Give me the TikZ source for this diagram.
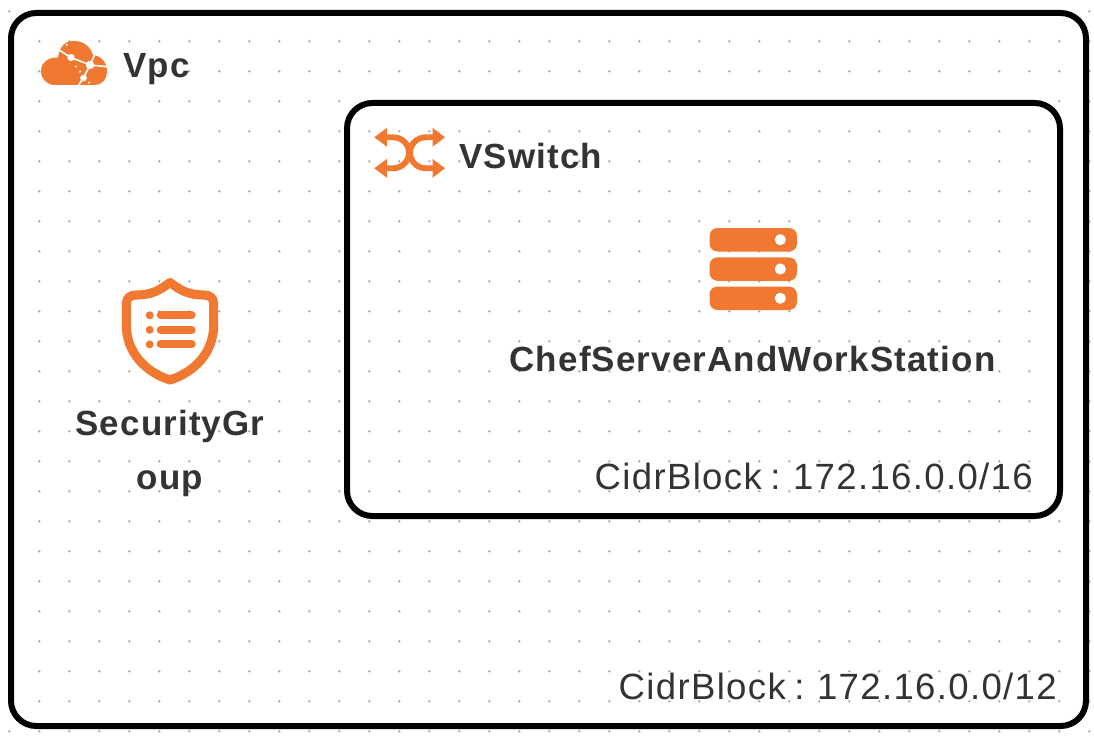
\documentclass[tikz,border=0pt]{standalone}
\usepackage{fontspec}
\setmainfont{Liberation Sans}
\newfontfamily\cidrfont[LetterSpace=3.7,WordSpace=0.75]{Liberation Sans}
\definecolor{iconorange}{HTML}{F07830}
\definecolor{labelgrey}{HTML}{333333}
\definecolor{griddot}{HTML}{ABABAB}
\tikzset{
  font={\fontsize{25.5pt}{40.5pt}\selectfont},
  boxline/.style={draw=black,line width=4.5pt,rounded corners=19pt},
  namelabel/.style={inner sep=0pt,text=labelgrey,font={\fontsize{26.2pt}{40.5pt}\selectfont\bfseries\addfontfeatures{LetterSpace=3.3}}},
  cidrlabel/.style={inner sep=0pt,text=labelgrey,font={\cidrfont\fontsize{27.4pt}{40.5pt}\selectfont},anchor=base east},
  crack/.style={white,line width=1.2pt}}

\begin{document}
\begin{tikzpicture}[x=0.75pt,y=-0.75pt]
\useasboundingbox (0,0) rectangle (1094,738);
\fill [white] (0,0) rectangle (1094,738);
% grid
\foreach \gx in {0,...,36}
  \foreach \gy in {0,...,24}
    \fill [griddot] (9.3+30*\gx,11.3+30*\gy) circle (1.3);
% boxes
\draw [boxline] (11,13) rectangle (1086,726);
\draw [boxline] (347,103) rectangle (1060,516);
% vpc icon
\fill [iconorange] (55,85) -- (95,85) .. controls (102,85) and (107,79) .. (107,72)
  .. controls (107,63) and (102,56) .. (93,55) .. controls (90,46) and (83,41) .. (74,41)
  .. controls (66,41) and (60,45) .. (58,57.5) .. controls (48,57) and (41,63) .. (41,71)
  .. controls (41,79) and (47,85) .. (55,85) -- cycle;
\draw [crack] (59,50) -- (71,57.5) -- (90,65) -- (107,66.7);
\draw [crack] (90,65) -- (95,54);
\draw [crack] (90,65) -- (83.5,78) -- (78,86);
\fill [white] (71,57.5) circle (3.6);
\fill [white] (90,65) circle (4.2);
\fill [white] (83.5,78) circle (3.4);
\foreach \cx/\cy in {66.7/45,76/66.5,80/71.7,89/82.7}
  \fill [white] (\cx,\cy) circle (1.2);
% vswitch icon
\draw [iconorange,line width=4.4pt] (385,137.3) -- (393,137.3) .. controls (403,137.3) and (409,145) .. (409,152.8) .. controls (409,160) and (403,168.3) .. (393,168.3) -- (385,168.3);
\draw [iconorange,line width=4.4pt] (434,137.3) -- (426,137.3) .. controls (416,137.3) and (410,145) .. (410,152.8) .. controls (410,160) and (416,168.3) .. (426,168.3) -- (434,168.3);
\foreach \ay in {137.3,168.3} {
  \fill [iconorange] (374.3,\ay) -- (387,\ay-9.5) -- (387,\ay+9.5) -- cycle;
  \fill [iconorange] (445,\ay) -- (432.5,\ay-9.5) -- (432.5,\ay+9.5) -- cycle;
}
% server icon
\foreach \sy in {228,257.3,286.5} {
  \fill [iconorange,rounded corners=6pt] (709.5,\sy) rectangle (797,\sy+23.5);
  \fill [white] (780.3,\sy+11.7) circle (5.6);
}
% shield icon
\draw [iconorange,line width=6.8pt,line join=round] (170,282.5)
  .. controls (160,290) and (152,295) .. (136,295) .. controls (130,295) and (126.3,298) .. (126.3,304)
  -- (126.3,325) .. controls (126.3,352) and (145,372) .. (170,380)
  .. controls (195,372) and (213.7,352) .. (213.7,325) -- (213.7,304)
  .. controls (213.7,298) and (210,295) .. (204,295) .. controls (188,295) and (180,290) .. (170,282.5) -- cycle;
\foreach \ly in {315.3,329.8,344.4} {
  \fill [iconorange] (149.7,\ly) circle (4);
  \draw [iconorange,line width=6pt,line cap=round] (160.7,\ly) -- (191.7,\ly);
}
% labels
\node (vpclabel) [namelabel,anchor=base west] at (123,77.5) {Vpc};
\node (vswitchlabel) [namelabel,anchor=base west] at (459,168) {VSwitch};
\node (serverlabel) [namelabel,anchor=base] at (752.5,371) {ChefServerAndWorkStation};
\node (grouplabel) [namelabel,align=center,anchor=base] at (170,489) {SecurityGr\\oup};
\node (switchcidr) [cidrlabel] at (1033,489) {CidrBlock : 172.16.0.0/16};
\node (vpccidr) [cidrlabel] at (1057,699) {CidrBlock : 172.16.0.0/12};
\end{tikzpicture}
\end{document}
